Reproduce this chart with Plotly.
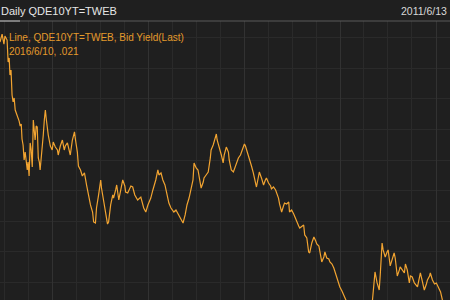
import pandas as pd
import plotly.graph_objects as go

start_date = "2011-06-13"
day_offsets = [0, 8, 15, 19, 27, 31, 35, 38, 42, 46, 50, 54, 58, 65, 73, 77, 81, 84, 88, 92, 96, 104, 107, 111,
               115, 119, 123, 127, 130, 134, 138, 142, 146, 150, 153, 157, 161, 165, 169, 173, 176, 180, 184,
               192, 199, 203, 211, 219, 222, 230, 238, 245, 249, 257, 265, 268, 276, 280, 284, 288, 295, 299,
               307, 314, 322, 330, 337, 345, 353, 357, 364, 368, 376, 384, 387, 395, 403, 410, 414, 422, 430,
               433, 441, 445, 453, 460, 468, 476, 479, 487, 499, 506, 514, 525, 537, 548, 556, 564, 575, 583,
               587, 594, 602, 606, 614, 621, 629, 640, 644, 652, 663, 671, 679, 690, 698, 706, 713, 721, 729,
               736, 740, 748, 755, 763, 767, 775, 778, 786, 794, 802, 805, 813, 821, 825, 828, 836, 844, 851,
               855, 863, 871, 874, 882, 890, 897, 901, 909, 917, 924, 932, 936, 943, 951, 959, 966, 974, 978,
               986, 989, 997, 1005, 1012, 1016, 1024, 1032, 1035, 1043, 1051, 1055, 1062, 1066, 1074, 1081,
               1085, 1093, 1101, 1104, 1112, 1120, 1127, 1131, 1139, 1143, 1151, 1158, 1162, 1170, 1177, 1181,
               1189, 1197, 1204, 1208, 1216, 1220, 1227, 1235, 1239, 1246, 1254, 1258, 1266, 1273, 1281, 1289,
               1296, 1304, 1312, 1319, 1327, 1342, 1361, 1381, 1400, 1411, 1419, 1427, 1430, 1438, 1446, 1450,
               1457, 1461, 1469, 1476, 1480, 1488, 1496, 1503, 1507, 1515, 1523, 1526, 1534, 1542, 1546, 1553,
               1561, 1565, 1572, 1580, 1592, 1599, 1603, 1611, 1618, 1626, 1630, 1638, 1641, 1649, 1657, 1664,
               1668, 1676, 1680, 1687, 1699, 1714, 1726, 1745, 1770, 1795, 1810, 1823]
bid_yield = [2.958, 3.036, 2.938, 3.017, 2.977, 2.762, 2.801, 2.634, 2.683, 2.438, 2.370, 2.409, 2.291, 2.242,
             2.183, 2.134, 2.154, 2.007, 1.948, 1.801, 1.879, 1.703, 1.781, 1.644, 1.968, 1.899, 1.732, 2.193,
             2.115, 1.997, 2.134, 2.124, 1.821, 1.781, 1.703, 1.801, 1.928, 2.046, 2.193, 2.291, 2.213, 2.124,
             2.046, 1.938, 1.899, 1.977, 1.928, 1.899, 1.850, 1.938, 1.997, 1.899, 1.938, 1.968, 1.899, 1.850,
             1.997, 2.046, 2.076, 1.997, 1.879, 1.742, 1.703, 1.644, 1.674, 1.556, 1.458, 1.360, 1.291, 1.193,
             1.183, 1.330, 1.458, 1.605, 1.526, 1.409, 1.311, 1.173, 1.193, 1.360, 1.458, 1.428, 1.507, 1.556,
             1.409, 1.507, 1.605, 1.546, 1.487, 1.477, 1.546, 1.536, 1.458, 1.409, 1.438, 1.330, 1.291, 1.360,
             1.428, 1.507, 1.536, 1.605, 1.703, 1.654, 1.674, 1.605, 1.556, 1.438, 1.379, 1.330, 1.291, 1.311,
             1.272, 1.232, 1.183, 1.262, 1.360, 1.428, 1.526, 1.605, 1.772, 1.723, 1.703, 1.556, 1.526, 1.585,
             1.625, 1.654, 1.683, 1.821, 1.899, 1.948, 2.017, 2.056, 1.997, 1.928, 1.850, 1.772, 1.850, 1.928,
             1.879, 1.801, 1.703, 1.683, 1.742, 1.772, 1.821, 1.850, 1.899, 1.958, 1.938, 1.879, 1.830, 1.742,
             1.674, 1.585, 1.536, 1.644, 1.683, 1.625, 1.556, 1.605, 1.625, 1.575, 1.546, 1.517, 1.536, 1.507,
             1.477, 1.428, 1.370, 1.291, 1.350, 1.379, 1.370, 1.389, 1.291, 1.311, 1.272, 1.222, 1.193, 1.154,
             1.134, 1.154, 1.164, 1.066, 1.036, 0.899, 0.889, 0.987, 1.046, 1.007, 0.977, 0.958, 0.899, 0.801,
             0.850, 0.899, 0.840, 0.830, 0.801, 0.781, 0.742, 0.674, 0.625, 0.556, 0.517, 0.477, 0.428, 0.370,
             0.300, 0.220, 0.160, 0.080, 0.160, 0.428, 0.625, 0.703, 0.595, 0.526, 0.674, 0.987, 0.919, 0.850,
             0.899, 0.919, 0.762, 0.821, 0.889, 0.840, 0.664, 0.723, 0.752, 0.723, 0.693, 0.781, 0.723, 0.595,
             0.664, 0.654, 0.595, 0.556, 0.625, 0.693, 0.605, 0.526, 0.585, 0.625, 0.664, 0.693, 0.625, 0.585,
             0.595, 0.575, 0.526, 0.507, 0.428, 0.330, 0.281, 0.252, 0.220, 0.330, 0.180, 0.120, 0.021]

header_title = "Daily QDE10YT=TWEB"
header_date = "2011/6/13"
legend_line1 = "Line, QDE10YT=TWEB, Bid Yield(Last)"
legend_line2 = "2016/6/10, .021"
x_range = ["2011-06-13", "2016-02-23"]
y_range = [0.428, 3.164]

dates = pd.to_datetime(start_date) + pd.to_timedelta(day_offsets, unit="D")

BG = "#1f1f1f"
GRID = "#2a2a2a"
GRID_YEAR = "#323232"
ORANGE = "#f2a431"
LEG = "#e49a2c"

fig = go.Figure()
fig.add_trace(go.Scatter(x=dates, y=bid_yield, mode="lines",
                         line=dict(color=ORANGE, width=1.2), hoverinfo="skip",
                         showlegend=False))

fig.update_layout(
    width=450, height=300,
    margin=dict(l=0, r=0, t=21, b=0),
    paper_bgcolor=BG, plot_bgcolor=BG,
    xaxis=dict(range=x_range, showticklabels=False, showline=False, zeroline=False,
               showgrid=True, gridcolor=GRID, gridwidth=1, dtick="M3", tick0="2012-01-01",
               ticks=""),
    xaxis2=dict(overlaying="x", matches="x", showticklabels=False, showline=False,
                zeroline=False, showgrid=True, gridcolor=GRID_YEAR, gridwidth=1,
                dtick="M12", tick0="2012-01-01", ticks=""),
    yaxis=dict(range=y_range, showticklabels=False, showline=False, zeroline=False,
               showgrid=True, gridcolor=GRID, gridwidth=1, dtick=0.3, tick0=0.6, ticks=""),
    font=dict(family="Liberation Sans"),
)
fig.add_trace(go.Scatter(x=[dates[0]], y=[None], xaxis="x2", showlegend=False, hoverinfo="skip"))

# header rule and tab indicator
fig.add_shape(type="line", xref="paper", yref="paper", x0=0, x1=1, y0=1, y1=1,
              line=dict(color="#5a5a5a", width=1))
fig.add_shape(type="line", xref="paper", yref="paper", x0=0, x1=20 / 450, y0=1, y1=1,
              line=dict(color="#bdbdbd", width=1))

fig.add_annotation(text=header_title, xref="paper", yref="paper", x=0, y=1, xanchor="left",
                   yanchor="bottom", yshift=2, xshift=-1, showarrow=False,
                   font=dict(color="#e6e6e6", size=11, family="Liberation Sans"))
fig.add_annotation(text=header_date, xref="paper", yref="paper", x=1, y=1, xanchor="right",
                   yanchor="bottom", yshift=2, xshift=-1, showarrow=False,
                   font=dict(color="#d8d8d8", size=10.5, family="Liberation Sans"))
fig.add_annotation(text=legend_line1, xref="paper", yref="paper", x=7 / 450, y=1, xanchor="left",
                   yanchor="top", yshift=-9, showarrow=False,
                   font=dict(color=LEG, size=10, family="Liberation Sans"))
fig.add_annotation(text=legend_line2, xref="paper", yref="paper", x=7 / 450, y=1, xanchor="left",
                   yanchor="top", yshift=-23, showarrow=False,
                   font=dict(color=LEG, size=10, family="Liberation Sans"))

fig.write_html("out.html")
